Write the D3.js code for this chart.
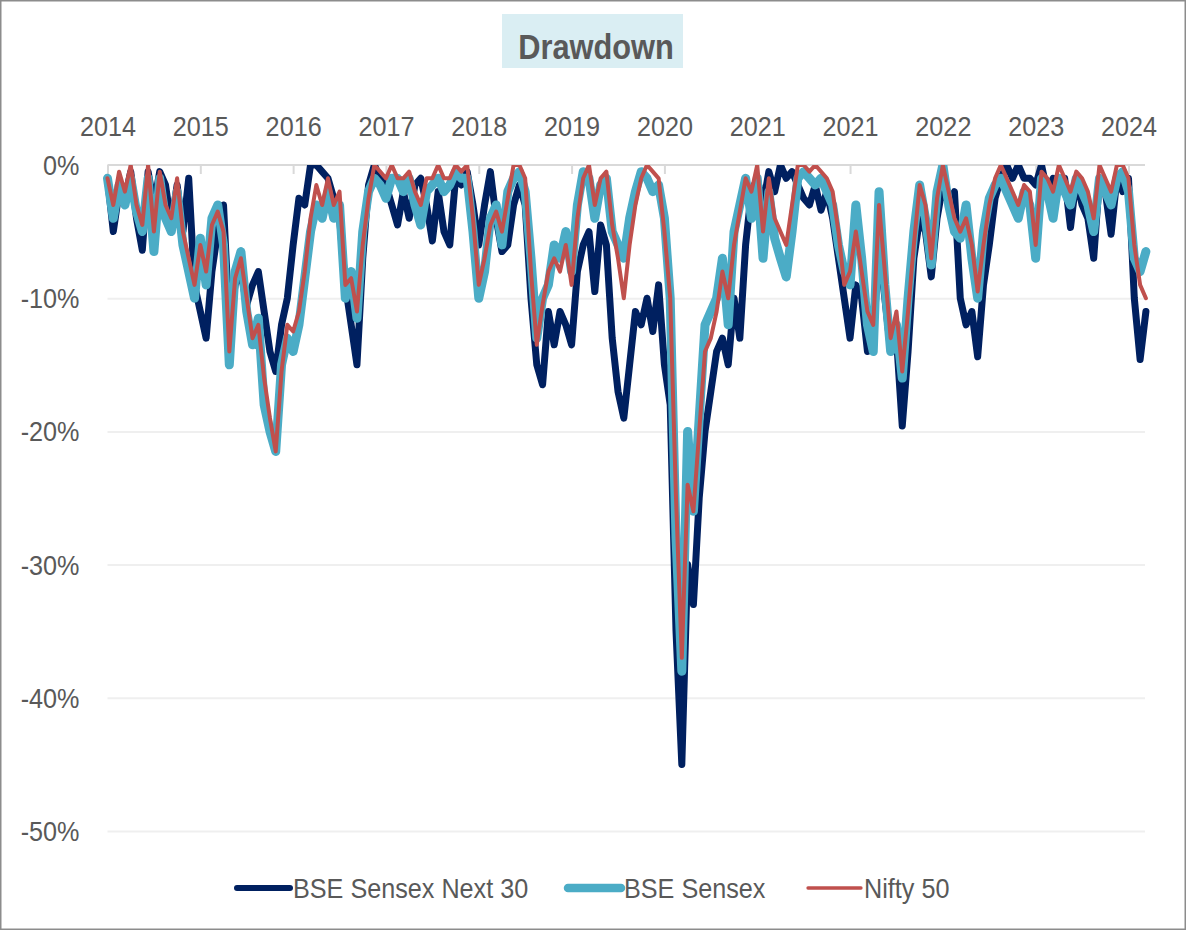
<!DOCTYPE html>
<html>
<head>
<meta charset="utf-8">
<script src="https://cdn.jsdelivr.net/npm/d3@7"></script>
<style>
  body { margin: 0; background: #fff; }
  text { font-family: "Liberation Sans", Arial, sans-serif; fill: #595959; }
</style>
</head>
<body>
<div id="chart"></div>
<script>
// drawdown in %, one value every ~5.8px of the reference
const next30 = [
  -1, -5, -2, -2.5, -0.5, -4, -6.4, -0.5, -3, -0.5, -1.5, -4.5, -1.5, -5, -1, -9,
  -11, -13, -8, -5, -3, -12, -9, -8, -10.5, -9, -8, -11, -14, -15.5, -12, -10,
  -6, -2.5, -3, 0, 0, -0.5, -1, -2.5, -4, -9, -12, -15, -7, -1.5, 0, -1,
  -1.5, -3, -4.5, -2, -4, -1.5, -1, -3, -5.7, -2, -5, -6, -1, -1.5, -0.5, -3,
  -6, -3, -0.5, -4, -6.5, -6, -3, -1.5, -3, -10, -15, -16.5, -11, -13.5, -11, -12,
  -13.5, -8, -6, -5, -9.5, -4.5, -6, -13, -17, -19, -15, -11, -12, -10, -12.5, -9,
  -15, -18, -35, -45, -30, -33, -25, -20, -17, -14, -13, -15, -10, -13, -6, -2,
  -1, -3, -0.5, -2, 0, -1, -0.5, -1.5, -2.5, -3, -1.5, -3.4, -2, -4, -7, -10,
  -13, -9, -10, -14, -13, -6, -10, -14, -13, -19.6, -14, -7, -4, -5, -8.4, -4,
  -1.5, -3, -2, -10, -12, -11, -14.4, -9, -6, -2.5, -1, 0, -1, 0, -1, -1,
  -1.5, 0, -2, -1, -2, -1, -4.7, -1, -3, -4, -7, -1, -2, -5.2, -1, -2,
  -1, -10, -14.6, -11
];
const sensex = [
  -1, -4, -1.5, -3, -1, -3.5, -5, -1, -6.5, -1, -4, -5, -2, -6, -8, -10,
  -5.5, -9, -4, -3, -6, -15, -8, -6.5, -11, -13.5, -11.5, -18, -20, -21.5, -15, -13,
  -14, -12, -8.5, -5, -3, -4, -2, -4, -3, -10, -8, -11.5, -5, -2, -1, -1.5,
  -2.5, -1, -1, -2, -1, -3, -4.5, -2, -1.5, -1, -2, -1.5, -0.5, -1, -1, -5,
  -10, -8, -4, -3, -6, -2, -1, -0.5, -2, -7, -13, -10, -9, -6, -7, -5,
  -8, -3, -0.5, -1, -4, -1.5, -1, -5, -6, -7, -4, -2, -0.5, -1, -2, -1.5,
  -4, -10, -28, -38, -20, -26, -19, -12, -11, -10, -7, -12, -5, -3, -1, -4,
  -1, -7, -2, -5.5, -7, -8.4, -5, -1, -0.5, -1, -1.5, -1, -2, -3, -6, -8,
  -9, -3, -7, -12, -14, -2, -9, -14, -12, -16, -10, -5, -1.5, -4, -7.5, -2,
  0, -3, -5, -5.5, -3, -7, -10, -5, -2.5, -1.5, -1, -2, -3, -4, -2, -3,
  -7, -1, -2, -4, -1, -2, -3, -1, -2, -3, -5, -1, -2, -3, -1, -0.5,
  -2, -7, -8, -6.5
];
const nifty = [
  -1, -3, -0.5, -2, 0, -3, -4.5, 0, -5, -0.5, -3, -4, -1, -5, -7, -9,
  -6, -8, -4.5, -3.5, -5, -14, -8.5, -7, -10, -13, -12, -16, -19, -21.5, -15.5, -12,
  -12.5, -11, -8, -4, -1.5, -3, -1, -3, -2, -9, -8.5, -11, -6, -2.5, 0, -0.5,
  -1, 0, -1, -1, -0.5, -2, -3, -1, -1, 0, -1, -1, 0, -0.5, 0, -4,
  -9, -7, -4.5, -3.5, -5, -2.5, 0, 0, -1, -8, -13.5, -10.5, -8, -7, -8, -6,
  -9, -4, -1, 0, -3, -1, -0.5, -4.5, -7, -10, -6, -3, -1, 0, -0.5, -1,
  -5, -10, -25, -37, -24, -26, -20, -14, -13, -11, -8, -10, -6, -3.5, -1, -2,
  0, -5, -1, -4, -5, -6, -3, 0, 0, -0.5, 0, -0.5, -1, -2, -5, -9,
  -8, -5, -8, -11, -12, -3, -8, -13, -11, -15.5, -11, -6, -1.5, -3, -7, -2.5,
  0, -2, -4, -5, -4, -6, -9.5, -6, -3, -1, 0, -1, -2, -3, -1.5, -2,
  -6, -0.5, -1, -2, 0, -1, -2, -0.5, -1, -2, -4, 0, -1, -2, 0, 0,
  -1, -6, -9, -10
];
const xTickLabels = ["2014", "2015", "2016", "2017", "2018", "2019", "2020", "2021", "2021", "2022", "2023", "2024"];
const yTicks = [0, -10, -20, -30, -40, -50];
const seriesNames = ["BSE Sensex Next 30", "BSE Sensex", "Nifty 50"];

const W = 1186, H = 930;
const plot = { left: 107.5, right: 1145, top: 165, bottom: 831 };
const ticksEvery = 16;
const narrow = 0.9; // squeeze Liberation Sans towards the narrow face of the original

const svg = d3.select("#chart").append("svg")
    .attr("width", W)
    .attr("height", H);

// outer frame
svg.append("rect")
    .attr("x", 0.75).attr("y", 0.75)
    .attr("width", W - 1.5).attr("height", H - 1.5)
    .attr("fill", "#fff")
    .attr("stroke", "#8c8c8c")
    .attr("stroke-width", 1.5);

// title box
svg.append("rect")
    .attr("x", 502).attr("y", 14)
    .attr("width", 181).attr("height", 54)
    .attr("fill", "#DAEEF3");
svg.append("text")
    .attr("transform", "translate(596,59) scale(0.88,1)")
    .attr("text-anchor", "middle")
    .style("font-size", "35px")
    .style("font-weight", "bold")
    .text("Drawdown");

const lastTick = (xTickLabels.length - 1) * ticksEvery;

const x = d3.scaleLinear()
    .domain([0, lastTick])
    .range([plot.left, 1128.5]);

const y = d3.scaleLinear()
    .domain([-50, 0])
    .range([plot.bottom, plot.top]);

// gridlines + y labels
const yAxis = svg.append("g")
    .attr("transform", `translate(${plot.left},0)`)
    .call(d3.axisLeft(y)
        .tickValues(yTicks)
        .tickSize(-(plot.right - plot.left))
        .tickPadding(28)
        .tickFormat(d => d + "%"));
yAxis.select(".domain").remove();
yAxis.selectAll(".tick line")
    .attr("stroke", "#EFEFEF")
    .attr("stroke-width", 2)
    .filter(d => d === 0).remove();
yAxis.selectAll(".tick text")
    .style("font-size", "28px")
    .attr("x", -28 / narrow)
    .attr("dy", "0.34em")
    .attr("transform", `scale(${narrow},1)`);

// x axis on the 0% line, labels on top
const xAxis = svg.append("g")
    .attr("transform", `translate(0,${plot.top})`)
    .call(d3.axisTop(x)
        .tickValues(d3.range(xTickLabels.length).map(i => i * ticksEvery))
        .tickFormat((d, i) => xTickLabels[i])
        .tickSizeInner(-9)
        .tickSizeOuter(0)
        .tickPadding(29));
xAxis.select(".domain")
    .attr("d", `M${plot.left},0H${plot.right}`)
    .attr("stroke", "#D9D9D9")
    .attr("stroke-width", 2);
xAxis.selectAll(".tick line")
    .attr("stroke", "#D9D9D9")
    .attr("stroke-width", 2);
xAxis.selectAll(".tick text")
    .style("font-size", "28px")
    .attr("transform", `scale(${narrow},1)`);

// clip lines at the 0% line
svg.append("clipPath").attr("id", "clip")
    .append("rect")
    .attr("x", 0).attr("y", plot.top)
    .attr("width", W).attr("height", plot.bottom - plot.top + 20);

const line = d3.line()
    .x((d, i) => x(i))
    .y(d => y(d));

const series = [
    { name: seriesNames[0], values: next30, color: "#002060", width: 7 },
    { name: seriesNames[1], values: sensex, color: "#4BACC6", width: 9 },
    { name: seriesNames[2], values: nifty, color: "#C0504D", width: 4 }
];

svg.append("g")
    .attr("clip-path", "url(#clip)")
    .selectAll("path")
    .data(series)
    .join("path")
    .attr("d", d => line(d.values))
    .attr("fill", "none")
    .attr("stroke", d => d.color)
    .attr("stroke-width", d => d.width)
    .attr("stroke-linejoin", "round")
    .attr("stroke-linecap", "round");

// legend
const legendPos = [237, 568, 808];
const legendWidth = [6, 8.5, 3.3];
const legend = svg.append("g")
    .selectAll("g")
    .data(series)
    .join("g")
    .attr("transform", (d, i) => `translate(${legendPos[i]},888)`);
legend.append("line")
    .attr("x1", 0).attr("x2", 53)
    .attr("stroke", d => d.color)
    .attr("stroke-width", (d, i) => legendWidth[i])
    .attr("stroke-linecap", "round");
legend.append("text")
    .attr("transform", `translate(56,0) scale(${narrow},1)`)
    .attr("dy", "0.35em")
    .style("font-size", "28px")
    .text(d => d.name);
</script>
</body>
</html>
